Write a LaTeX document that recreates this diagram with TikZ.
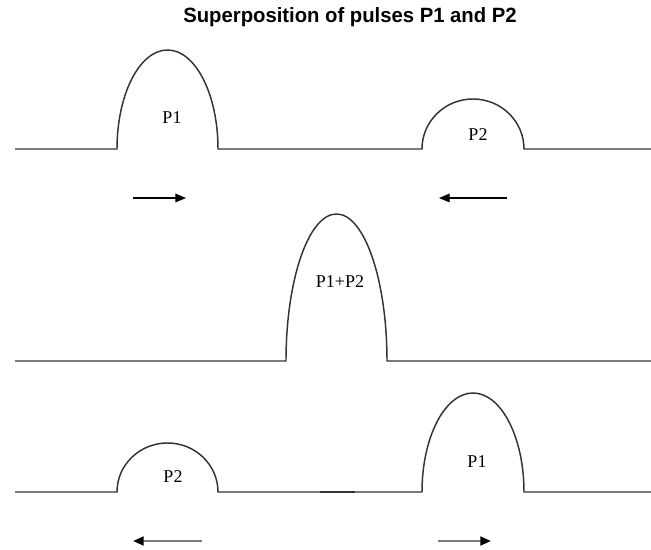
\documentclass[tikz,border=0pt]{standalone}
\usepackage{fontspec}
\usepackage{graphicx}
\setmainfont{Liberation Serif}
\newfontfamily\titlefont{Liberation Sans}
\usetikzlibrary{arrows.meta}
\definecolor{wave}{HTML}{333333}
\definecolor{shaft}{HTML}{7A7A7A}
\tikzset{
  wavestyle/.style={draw=wave, line width=1.1pt},
  lbl/.style={inner sep=0pt, font=\fontsize{13.5}{15}\selectfont},
  arrowblack/.style={draw=black, line width=0.9pt, -{Triangle[length=8pt,width=6.5pt]}},
  arrowgray/.style={draw=shaft, line width=2pt, -{Triangle[length=8pt,width=6.5pt,fill=black,color=black]}},
}
\begin{document}
\begin{tikzpicture}[x=0.75pt,y=0.75pt]
\useasboundingbox (0,0) rectangle (651,550);
% title
\node[inner sep=0pt] (title) at (350,533) {\resizebox{250pt}{\height}{\titlefont\bfseries\fontsize{15.5}{17}\selectfont Superposition of pulses P1 and P2}};
% row 1
\draw[wavestyle] (15,401) -- (117,401) arc[start angle=180,end angle=0,x radius=50.5,y radius=99]
  -- (422,401) arc[start angle=180,end angle=0,x radius=51,y radius=50] -- (651,401);
\node[lbl] (p1a) at (172,432) {P1};
\node[lbl] (p2a) at (478,415) {P2};
\coordinate (a1s) at (133,352); \coordinate (a1e) at (186,352);
\coordinate (a2s) at (507,352); \coordinate (a2e) at (439,352);
\draw[arrowblack] (a1s) -- (a1e);
\draw[arrowblack] (a2s) -- (a2e);
% row 2
\draw[wavestyle] (15,189) -- (286,189) arc[start angle=180,end angle=0,x radius=50.5,y radius=147] -- (651,189);
\node[lbl] (p12) at (340,268) {P1+P2};
% row 3
\draw[wavestyle] (15,58) -- (117,58) arc[start angle=180,end angle=0,x radius=50.5,y radius=49]
  -- (422,58) arc[start angle=180,end angle=0,x radius=51,y radius=99] -- (651,58);
\draw[draw=wave, line width=1.8pt] (320,58) -- (355,58);
\node[lbl] (p2b) at (173,73) {P2};
\node[lbl] (p1b) at (477,88) {P1};
\coordinate (b1s) at (202,9); \coordinate (b1e) at (133,9);
\coordinate (b2s) at (438,9); \coordinate (b2e) at (491,9);
\draw[arrowgray] (b1s) -- (b1e);
\draw[arrowgray] (b2s) -- (b2e);
\end{tikzpicture}
\end{document}
